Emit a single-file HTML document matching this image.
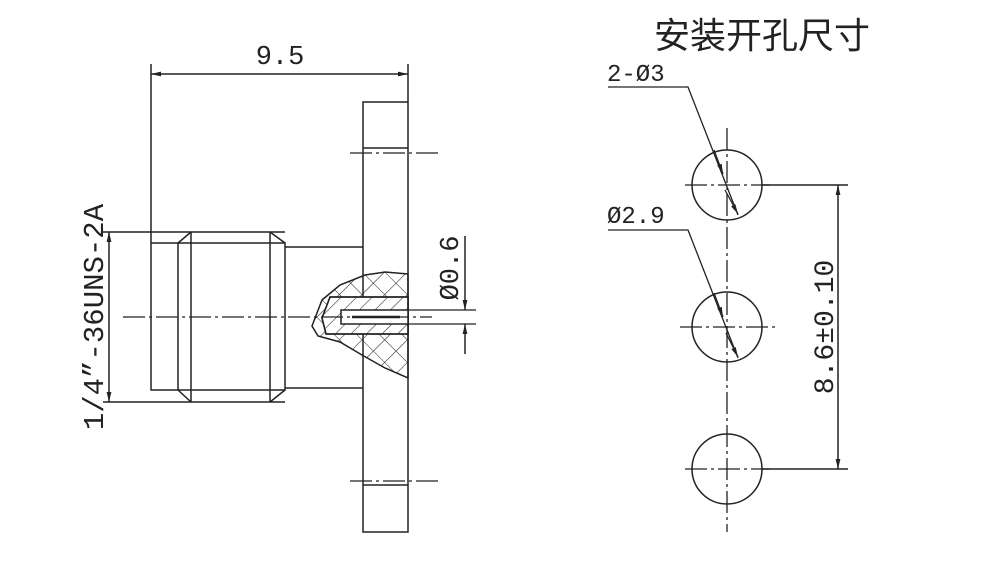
<!DOCTYPE html>
<html><head><meta charset="utf-8"><style>
html,body{margin:0;padding:0;background:#fff;}
svg{display:block;}
text{font-family:"Liberation Mono","Noto Sans CJK SC",monospace;fill:#222;}
</style></head><body>
<svg width="1000" height="580" viewBox="0 0 1000 580" xmlns="http://www.w3.org/2000/svg">
<defs>
<pattern id="xh" width="16" height="16" patternUnits="userSpaceOnUse" patternTransform="rotate(45)">
<path d="M0 0H16M0 0V16" stroke="#222" stroke-width="1.1"/>
</pattern>
<pattern id="sh" width="11" height="11" patternUnits="userSpaceOnUse" patternTransform="rotate(45)">
<path d="M0 0V11" stroke="#222" stroke-width="1.1"/>
</pattern>
<marker id="ar" viewBox="0 0 10 6" refX="10" refY="3" markerWidth="11" markerHeight="6" orient="auto-start-reverse" markerUnits="userSpaceOnUse">
<path d="M0 0.6L10 3L0 5.4z" fill="#222"/>
</marker>
</defs>
<g stroke="#222" stroke-width="1.5" fill="none">
<line x1="151" y1="64" x2="151" y2="243"/>
<line x1="408" y1="64" x2="408" y2="102"/>
<line x1="151" y1="74" x2="408" y2="74" marker-start="url(#ar)" marker-end="url(#ar)"/>
<rect x="363" y="102" width="45" height="430"/>
<line x1="363" y1="148" x2="408" y2="148"/>
<line x1="363" y1="485" x2="408" y2="485"/>
<line x1="103" y1="232" x2="285" y2="232"/>
<line x1="103" y1="402" x2="285" y2="402"/>
<rect x="151" y="243" width="134" height="147"/>
<line x1="178" y1="243" x2="178" y2="390"/>
<line x1="191" y1="232" x2="191" y2="402"/>
<line x1="270" y1="232" x2="270" y2="402"/>
<line x1="178" y1="243" x2="191" y2="232"/>
<line x1="178" y1="390" x2="191" y2="402"/>
<line x1="270" y1="232" x2="285" y2="243"/>
<line x1="270" y1="402" x2="285" y2="390"/>
<line x1="285" y1="247" x2="363" y2="247"/>
<line x1="285" y1="388" x2="363" y2="388"/>
<line x1="109" y1="232" x2="109" y2="402" marker-start="url(#ar)" marker-end="url(#ar)"/>
<path d="M408 274 L385 272 L365 275 L340 285 L322 300 L312 326 L318 336 L340 342 L362 355 L385 368 L408 378 Z" fill="url(#xh)"/>
<path d="M408 297 L330 297 L322 318 L326 334 L408 334 Z" fill="#fff"/>
<path d="M408 297 L330 297 L322 318 L326 334 L408 334 Z" fill="url(#sh)"/>
<rect x="341" y="310" width="67" height="14" fill="#fff"/>
<line x1="352" y1="317" x2="400" y2="317" stroke-width="2.5"/>
<line x1="408" y1="310" x2="476" y2="310" stroke-width="1.2"/>
<line x1="408" y1="324" x2="476" y2="324" stroke-width="1.2"/>
<line x1="465" y1="236" x2="465" y2="310" marker-end="url(#ar)"/>
<line x1="465" y1="354" x2="465" y2="324" marker-end="url(#ar)"/>
<polyline points="608,87 688,87 738,215" stroke-width="1.3"/>
<polyline points="608,230 688,230 738,358" stroke-width="1.3"/>
<line x1="714" y1="150" x2="723" y2="174" marker-end="url(#ar)" stroke-width="1.3"/>
<line x1="725" y1="190" x2="738" y2="214" marker-end="url(#ar)" stroke-width="1.3"/>
<line x1="714" y1="293" x2="723" y2="317" marker-end="url(#ar)" stroke-width="1.3"/>
<line x1="726" y1="333" x2="738" y2="357" marker-end="url(#ar)" stroke-width="1.3"/>
<circle cx="727" cy="185" r="35"/>
<circle cx="727" cy="327" r="35"/>
<circle cx="727" cy="469" r="35"/>
<line x1="762" y1="185" x2="848" y2="185"/>
<line x1="762" y1="469" x2="848" y2="469"/>
<line x1="838" y1="185" x2="838" y2="469" marker-start="url(#ar)" marker-end="url(#ar)"/>
</g>
<g stroke="#222" stroke-width="1.3" stroke-dasharray="22,4,3,4" fill="none">
<line x1="123" y1="317" x2="432" y2="317"/>
<line x1="350" y1="153" x2="440" y2="153"/>
<line x1="350" y1="481" x2="440" y2="481"/>
<line x1="727" y1="128" x2="727" y2="532"/>
<line x1="685" y1="185" x2="770" y2="185"/>
<line x1="680" y1="327" x2="776" y2="327"/>
<line x1="685" y1="469" x2="770" y2="469"/>
</g>
<text x="280" y="64" font-size="27" text-anchor="middle">9.5</text>
<text transform="translate(103,317) rotate(-90)" font-size="29" text-anchor="middle">1/4”-36UNS-2A</text>
<text transform="translate(458,268) rotate(-90)" font-size="27" text-anchor="middle">Ø0.6</text>
<text x="607" y="81" font-size="24">2-Ø3</text>
<text x="607" y="223" font-size="24">Ø2.9</text>
<text transform="translate(833,327) rotate(-90)" font-size="28" text-anchor="middle">8.6±0.10</text>
<text x="762" y="48" font-size="36" text-anchor="middle" style="font-family:'Noto Sans CJK SC',sans-serif">安装开孔尺寸</text>
</svg>
</body></html>
